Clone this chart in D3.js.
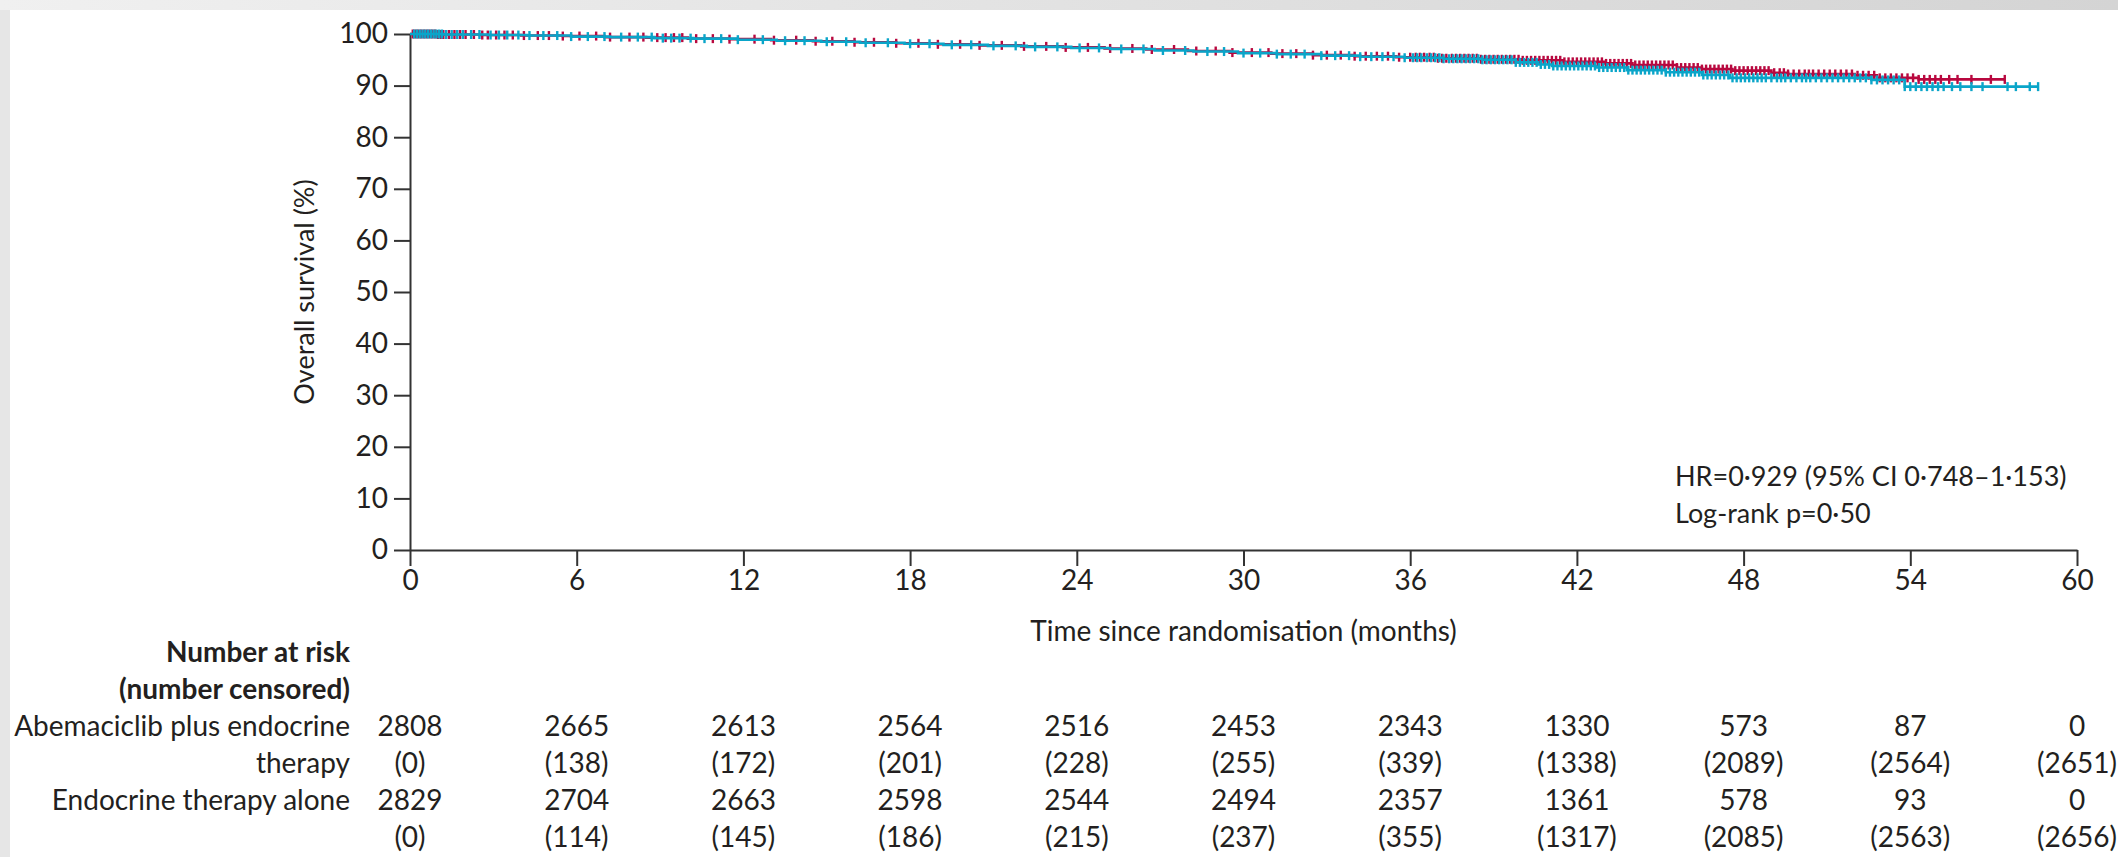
<!DOCTYPE html>
<html>
<head>
<meta charset="utf-8">
<script src="https://cdn.jsdelivr.net/npm/d3@7"></script>
<style>
  body { margin: 0; background: #fff; }
  svg { display: block; }
  text { font-family: Lato, "Liberation Sans", sans-serif; fill: #231f20; }
</style>
</head>
<body>
<div id="chart"></div>
<script>
// ticks
const timeTicks = [0, 6, 12, 18, 24, 30, 36, 42, 48, 54, 60];
const survivalTicks = [0, 10, 20, 30, 40, 50, 60, 70, 80, 90, 100];

// Kaplan-Meier steps (months, % alive)
const abemaTimes = [0, 1, 2.5, 4, 5.5, 7, 8.5, 10, 11.5, 13, 14.5, 16, 17.5, 19, 20.5, 22, 23.5, 25, 26.5, 28, 29.5, 31, 32.5, 34, 35.5, 37, 38.5, 40, 41.5, 43, 44, 45.6, 46.5, 47.6, 49, 49.6, 52, 52.8, 54.3];
const abemaSurv = [100, 99.9, 99.8, 99.7, 99.6, 99.4, 99.3, 99.1, 99.0, 98.8, 98.6, 98.4, 98.2, 98.0, 97.8, 97.6, 97.4, 97.2, 97.0, 96.7, 96.4, 96.2, 95.9, 95.7, 95.5, 95.3, 95.1, 94.9, 94.6, 94.3, 94.0, 93.5, 93.2, 92.9, 92.5, 92.25, 92.0, 91.5, 91.2];
const abemaEnd = 57.4;

const etTimes = [0, 1.2, 2.8, 4.2, 5.8, 7.2, 8.8, 10.2, 11.8, 13.2, 14.8, 16.2, 17.8, 19.2, 20.8, 22.2, 23.8, 25.2, 26.8, 28.2, 29.8, 31.2, 32.8, 34.2, 35.8, 37.2, 38.6, 39.8, 40.6, 41.1, 42.7, 43.8, 45.2, 46.5, 47.5, 52.6, 53.8];
const etSurv = [100, 99.9, 99.8, 99.7, 99.5, 99.4, 99.2, 99.1, 98.9, 98.7, 98.5, 98.3, 98.1, 97.9, 97.7, 97.5, 97.3, 97.1, 96.8, 96.6, 96.3, 96.1, 95.8, 95.6, 95.4, 95.2, 95.0, 94.5, 94.1, 93.8, 93.5, 93.0, 92.6, 92.05, 91.5, 91.1, 89.8];
const etEnd = 58.6;

// censoring marks (months)
const abemaCensor = [0.1, 0.2, 0.3, 0.4, 0.5, 0.6, 0.7, 0.8, 0.9, 1.0, 1.1, 1.2, 1.4, 1.6, 1.8, 2.0, 2.3, 2.6, 2.8, 3.1, 3.4, 3.7, 4.1, 4.6, 5.0, 5.5, 6.1, 6.7, 7.2, 7.9, 8.4, 8.9, 9.2, 9.5, 9.8, 10.3, 10.9, 11.5, 12.4, 13.1, 13.9, 14.6, 15.2, 16.0, 16.7, 17.5, 18.3, 19.0, 19.8, 20.5, 21.3, 22.1, 22.9, 23.6, 24.4, 25.2, 26.0, 26.7, 27.5, 28.3, 29.0, 29.6, 30.3, 30.9, 31.4, 31.9, 32.5, 33.0, 33.5, 34.0, 34.4, 34.8, 35.2, 35.6,
  36.0, 36.2, 36.35, 36.5, 36.7, 36.85, 37.0, 37.15, 37.3, 37.5, 37.65, 37.8, 37.95, 38.1, 38.25, 38.4, 38.55, 38.7, 38.85, 39.0, 39.15, 39.3, 39.45, 39.6, 39.75, 39.9, 40.05, 40.2, 40.35, 40.5, 40.65, 40.8, 40.95, 41.1, 41.25, 41.4, 41.55, 41.7, 41.85, 42.0, 42.15, 42.3, 42.45, 42.6, 42.75, 42.9, 43.05, 43.2, 43.35, 43.5, 43.65, 43.8, 43.95, 44.1, 44.25, 44.4, 44.55, 44.7, 44.85, 45.0, 45.15, 45.3, 45.45, 45.6, 45.75, 45.9, 46.05, 46.2, 46.35, 46.5, 46.65, 46.8, 46.95, 47.1, 47.25, 47.4, 47.55, 47.7, 47.85, 48.0, 48.15, 48.3, 48.45, 48.6, 48.75, 48.9, 49.1, 49.3, 49.45, 49.6, 49.8, 50.0, 50.2, 50.35, 50.5, 50.7, 50.9, 51.1, 51.3, 51.5, 51.7, 51.9, 52.1, 52.3, 52.5, 52.7, 52.9, 53.1, 53.3, 53.5, 53.7, 53.9, 54.1, 54.3, 54.5, 54.7, 54.9, 55.1, 55.4, 55.7, 56.2, 56.9, 57.4];
const etCensor = [0.15, 0.25, 0.35, 0.45, 0.55, 0.65, 0.75, 0.85, 0.95, 1.05, 1.15, 1.3, 1.5, 1.7, 1.9, 2.2, 2.5, 2.9, 3.2, 3.5, 3.9, 4.3, 4.8, 5.3, 5.8, 6.4, 7.0, 7.6, 8.2, 8.7, 9.1, 9.4, 9.7, 10.1, 10.6, 11.2, 11.8, 12.7, 13.5, 14.2, 15.0, 15.7, 16.4, 17.2, 18.0, 18.7, 19.5, 20.2, 21.0, 21.8, 22.5, 23.3, 24.1, 24.8, 25.6, 26.4, 27.1, 27.9, 28.7, 29.3, 30.0, 30.6, 31.2, 31.7, 32.2, 32.8, 33.3, 33.8, 34.2, 34.6, 35.0, 35.4, 35.8,
  36.1, 36.25, 36.4, 36.6, 36.75, 36.9, 37.05, 37.2, 37.4, 37.55, 37.7, 37.85, 38.0, 38.15, 38.3, 38.45, 38.6, 38.75, 38.9, 39.05, 39.2, 39.35, 39.5, 39.65, 39.8, 39.95, 40.1, 40.25, 40.4, 40.55, 40.7, 40.85, 41.0, 41.15, 41.3, 41.45, 41.6, 41.75, 41.9, 42.05, 42.2, 42.35, 42.5, 42.65, 42.8, 42.95, 43.1, 43.25, 43.4, 43.55, 43.7, 43.85, 44.0, 44.15, 44.3, 44.45, 44.6, 44.75, 44.9, 45.05, 45.2, 45.35, 45.5, 45.65, 45.8, 45.95, 46.1, 46.25, 46.4, 46.55, 46.7, 46.85, 47.0, 47.15, 47.3, 47.45, 47.6, 47.75, 47.9, 48.05, 48.2, 48.35, 48.5, 48.65, 48.8, 49.0, 49.2, 49.35, 49.5, 49.7, 49.9, 50.1, 50.25, 50.4, 50.6, 50.8, 51.0, 51.2, 51.4, 51.6, 51.8, 52.0, 52.2, 52.4, 52.6, 52.8, 53.0, 53.2, 53.4, 53.6, 53.8, 54.0, 54.2, 54.4, 54.6, 54.8, 55.0, 55.2, 55.5, 55.8, 56.2, 56.6, 57.5, 57.8, 58.3, 58.6];

// number at risk table
const abemaAtRisk = [2808, 2665, 2613, 2564, 2516, 2453, 2343, 1330, 573, 87, 0];
const abemaCensored = [0, 138, 172, 201, 228, 255, 339, 1338, 2089, 2564, 2651];
const etAtRisk = [2829, 2704, 2663, 2598, 2544, 2494, 2357, 1361, 578, 93, 0];
const etCensored = [0, 114, 145, 186, 215, 237, 355, 1317, 2085, 2563, 2656];

const abemaColor = "#b8083f";
const etColor = "#0aa5c9";
const axisColor = "#333";

const width = 2118, height = 857;
const svg = d3.select("#chart").append("svg")
  .attr("width", width)
  .attr("height", height);

// page frame
const defs = svg.append("defs");
const grad = defs.append("linearGradient").attr("id", "topband");
grad.append("stop").attr("offset", "0%").attr("stop-color", "#f0f0f0");
grad.append("stop").attr("offset", "100%").attr("stop-color", "#d4d4d4");
svg.append("rect").attr("width", width).attr("height", height).attr("fill", "#e6e6e6");
svg.append("rect").attr("width", width).attr("height", 10).attr("fill", "url(#topband)");
svg.append("rect").attr("x", 10).attr("y", 10).attr("width", width - 10).attr("height", height - 10).attr("fill", "#fff");

const x = d3.scaleLinear().domain([0, 60]).range([410, 2077]);
const y = d3.scaleLinear().domain([0, 100]).range([550, 34]);

// axes
const xAxis = svg.append("g")
  .attr("transform", `translate(0,${y(0)})`)
  .call(d3.axisBottom(x).tickValues(timeTicks).tickSize(16).tickSizeOuter(0).tickPadding(4));
const yAxis = svg.append("g")
  .attr("transform", `translate(${x(0)},0)`)
  .call(d3.axisLeft(y).tickValues(survivalTicks).tickSize(16).tickSizeOuter(0).tickPadding(6));

[xAxis, yAxis].forEach(g => {
  g.attr("font-size", null).attr("font-family", null);
  g.selectAll("path, line").attr("stroke", axisColor).attr("stroke-width", 2);
  g.selectAll("text").attr("fill", "#231f20").style("font-size", "28px");
});

svg.append("text")
  .attr("transform", `translate(314,${y(50)}) rotate(-90)`)
  .attr("text-anchor", "middle")
  .style("font-size", "27px")
  .text("Overall survival (%)");

svg.append("text")
  .attr("x", x(30))
  .attr("y", 641)
  .attr("text-anchor", "middle")
  .style("font-size", "28px")
  .text("Time since randomisation (months)");

// curves
const line = d3.line()
  .x(d => x(d[0]))
  .y(d => y(d[1]))
  .curve(d3.curveStepAfter);

function drawArm(times, surv, end, censor, color) {
  const pts = times.map((t, i) => [t, surv[i]]);
  pts.push([end, surv[surv.length - 1]]);
  svg.append("path")
    .datum(pts)
    .attr("fill", "none")
    .attr("stroke", color)
    .attr("stroke-width", 2.6)
    .attr("d", line);

  const bis = d3.bisector(d => d).right;
  svg.append("g").selectAll("line")
    .data(censor)
    .enter().append("line")
    .attr("x1", d => x(d))
    .attr("x2", d => x(d))
    .attr("y1", d => y(surv[Math.max(0, bis(times, d) - 1)]) - 4.5)
    .attr("y2", d => y(surv[Math.max(0, bis(times, d) - 1)]) + 4.5)
    .attr("stroke", color)
    .attr("stroke-width", 2.4);
}

drawArm(abemaTimes, abemaSurv, abemaEnd, abemaCensor, abemaColor);
drawArm(etTimes, etSurv, etEnd, etCensor, etColor);

// stats
svg.append("text").attr("x", 1675).attr("y", 486).style("font-size", "27px")
  .text("HR=0·929 (95% CI 0·748–1·153)");
svg.append("text").attr("x", 1675).attr("y", 523).style("font-size", "27px")
  .text("Log-rank p=0·50");

// number at risk
const rowY = [662, 699, 736, 773, 810, 847];
const labelX = 350;
const header = ["Number at risk", "(number censored)"];
header.forEach((h, i) => {
  svg.append("text").attr("x", labelX).attr("y", rowY[i])
    .attr("text-anchor", "end").style("font-size", "28px").style("font-weight", "bold")
    .text(h);
});
const rowLabels = ["Abemaciclib plus endocrine", "therapy", "Endocrine therapy alone", ""];
const rowValues = [
  abemaAtRisk.map(String),
  abemaCensored.map(v => `(${v})`),
  etAtRisk.map(String),
  etCensored.map(v => `(${v})`)
];
rowLabels.forEach((lab, r) => {
  const yy = rowY[r + 2];
  svg.append("text").attr("x", labelX).attr("y", yy)
    .attr("text-anchor", "end").style("font-size", "28px").text(lab);
  svg.append("g").selectAll("text")
    .data(rowValues[r])
    .enter().append("text")
    .attr("x", (d, i) => x(timeTicks[i]))
    .attr("y", yy)
    .attr("text-anchor", "middle")
    .style("font-size", "28px")
    .text(d => d);
});
</script>
</body>
</html>
